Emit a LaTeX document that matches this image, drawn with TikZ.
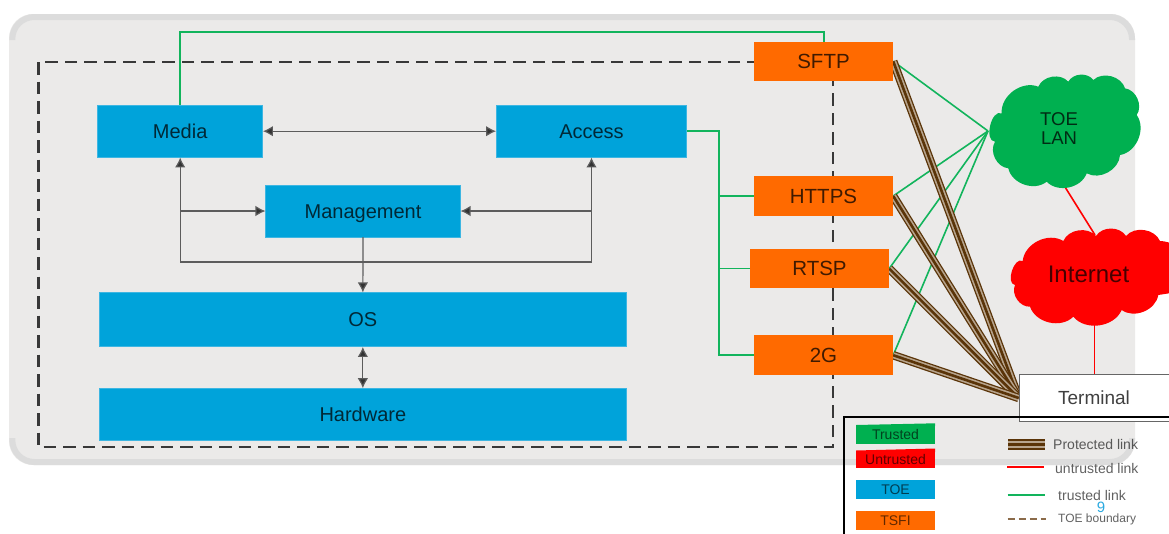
\documentclass[tikz,border=0pt]{standalone}
\usepackage{fontspec}
\setmainfont{Liberation Sans}
\usetikzlibrary{arrows.meta}
\definecolor{panelgray}{HTML}{EBEAE9}
\definecolor{paneledge}{HTML}{DCDCDC}
\definecolor{toeblue}{HTML}{00A3DA}
\definecolor{toeedge}{HTML}{3DB6E2}
\definecolor{tsfi}{HTML}{FF6A00}
\definecolor{tgreen}{HTML}{00B050}
\definecolor{lgreen}{HTML}{12B45C}
\definecolor{pbrown}{HTML}{5A3408}
\definecolor{ptan}{HTML}{B7A48D}
\definecolor{dashbrown}{HTML}{8B6B4A}
\definecolor{arrowgray}{HTML}{5C5C5C}
\definecolor{tipdark}{HTML}{333333}
\definecolor{nine}{HTML}{2AA9E0}
\pgfdeclarelayer{under}
\pgfsetlayers{under,main}
\tikzset{
  toebox/.style={rectangle,fill=toeblue,draw=toeedge,line width=0.5pt,inner sep=0pt,font=\fontsize{20}{22}\selectfont,text=black,text opacity=0.75,text height=14.5pt,text depth=0pt},
  tsfibox/.style={rectangle,fill=tsfi,inner sep=0pt,font=\fontsize{20.5}{22}\selectfont,text=black,text opacity=0.75,minimum width=139pt,text height=14.7pt,text depth=0pt},
  swatch/.style={rectangle,inner sep=0pt,minimum width=79pt,font=\fontsize{14}{16}\selectfont,text=black,text opacity=0.62,text height=10pt,text depth=0pt},
  legendtext/.style={inner sep=0pt,font=\fontsize{14}{16}\selectfont,text=black,text opacity=0.62,anchor=west},
  ctrl/.style={draw=arrowgray,line width=1.2pt,{Latex[length=10pt,width=10.5pt,fill=tipdark]}-{Latex[length=10pt,width=10.5pt,fill=tipdark]}},
  ctrlone/.style={draw=arrowgray,line width=1.2pt,-{Latex[length=10pt,width=10.5pt,fill=tipdark]}},
  glink/.style={draw=lgreen,line width=1.6pt},
  rlink/.style={draw=red,line width=1.6pt},
  protlink/.style={draw=pbrown,line width=8.5pt,postaction={draw=ptan,line width=5.9pt},postaction={draw=pbrown,line width=2.6pt}},
  protsample/.style={draw=pbrown,line width=11pt,postaction={draw=ptan,line width=7.5pt},postaction={draw=pbrown,line width=3.5pt}},
  lobe/.style={bend left=58},
  biglobe/.style={bend left=100}
}
\begin{document}
\begin{tikzpicture}[x=1pt,y=-1pt]
\path[use as bounding box] (0,0) rectangle (1169,533);
\clip (0,0) rectangle (1169,533);
% panel
\begin{pgfonlayer}{under}
\fill[panelgray,rounded corners=24pt] (9,14) rectangle (1135,465);
\draw[paneledge,line width=6pt,rounded corners=22pt] (12.3,40) -- (12.3,17) -- (1132,17) -- (1132,40);
\draw[paneledge,line width=6pt,rounded corners=22pt] (12.3,438) -- (12.3,462) -- (1132,462) -- (1132,438);
\draw[draw=black!78,line width=2.8pt,dash pattern=on 12.5pt off 7pt] (38.5,62) rectangle (833,447);
\end{pgfonlayer}
% TOE blocks
\node[toebox,minimum width=165pt,minimum height=52pt] (media) at (180.2,131.2) {Media};
\node[toebox,minimum width=190.4pt,minimum height=52pt] (access) at (591.5,131.2) {Access};
\node[toebox,minimum width=194.6pt,minimum height=51.7pt] (mgmt) at (363,211) {Management};
\node[toebox,minimum width=526.3pt,minimum height=54pt] (os) at (362.85,319.7) {OS};
\node[toebox,minimum width=526.3pt,minimum height=51.5pt] (hw) at (362.85,414.2) {Hardware};
% TSFI blocks
\node[tsfibox,minimum height=38.7pt] (sftp) at (823.5,61.3) {SFTP};
\node[tsfibox,minimum height=39.7pt] (https) at (823.5,196) {HTTPS};
\node[tsfibox,minimum height=38.7pt] (rtsp) at (819.5,268.6) {RTSP};
\node[tsfibox,minimum height=39.7pt] (twog) at (823.5,355.2) {2G};
% TOE LAN cloud
\fill[tgreen] (995,141.7) to[biglobe] (1001.7,113.3) to[lobe] (1038.3,86.7) to[lobe] (1068.3,81.7)
  to[lobe] (1093.3,80) to[lobe] (1125,88.3) to[lobe] (1136.7,115) to[lobe] (1120,155)
  to[lobe] (1086.7,173.3) to[lobe] (1046.7,181.7) to[lobe] (1008.3,168.3) to[lobe] (995,141.7) -- cycle;
\node[inner sep=0pt,align=center,font=\fontsize{18.5}{19}\selectfont,text=black,text opacity=0.75] (lan) at (1059,128.5) {TOE\\LAN};
\coordinate (lanw) at (988,131);
\coordinate (lans) at (1065,187);
% Internet cloud
\fill[red] (1015,285) to[biglobe] (1022.7,261) to[lobe] (1063.3,241) to[lobe] (1096,236)
  to[lobe] (1126,236) to[lobe] (1160,241) to[lobe] (1190,290) -- (1158.3,295)
  to[lobe] (1121.7,310) to[lobe] (1073.3,316.7) to[lobe] (1030,306.7) to[lobe] (1015,285) -- cycle;
\node[inner sep=0pt,font=\fontsize{24}{26}\selectfont,text=black,text opacity=0.72] (net) at (1088.5,274) {Internet};
\coordinate (netn) at (1095,235);
\coordinate (nets) at (1094.5,323);
% Terminal
\node[rectangle,fill=white,draw=black!60,line width=1.2pt,inner sep=0pt,minimum width=154pt,minimum height=47.5pt,font=\fontsize{19}{21}\selectfont,text=black,text opacity=0.75] (term) at (1096.3,398) {\hspace*{-4.6pt}Terminal};
% connectors under the nodes
\begin{pgfonlayer}{under}
\coordinate (gtop) at (824,32);
\draw[glink] (media.north) -- (media.north |- gtop) -- (gtop) -- (gtop |- sftp.north);
\coordinate (gbus) at (719,196);
\draw[glink] (access.east) -- (gbus |- access.east) -- (gbus |- twog.west) -- (twog.west);
\draw[glink] (gbus) -- (https.west);
\draw[glink] (gbus |- rtsp.west) -- (rtsp.west);
\draw[glink] (sftp.east) -- (lanw);
\draw[glink] (https.east) -- (lanw);
\draw[glink] (rtsp.east) -- (lanw);
\draw[glink] (twog.east) -- (lanw);
\draw[protlink] (sftp.east) -- (term.west);
\draw[protlink] (https.east) -- (term.west);
\draw[protlink] (rtsp.east) -- (term.west);
\draw[protlink] (twog.east) -- (term.west);
\draw[rlink] (lans) -- (netn);
\draw[rlink] (nets) -- (nets |- term.north);
\end{pgfonlayer}
% control arrows
\coordinate (row) at (363,262);
\draw[ctrl] (media.east) -- (access.west);
\draw[ctrl] (media.south) -- (media.south |- row) -- (access.south |- row) -- (access.south);
\draw[ctrlone] (media.south |- mgmt.west) -- (mgmt.west);
\draw[ctrlone] (access.south |- mgmt.east) -- (mgmt.east);
\draw[ctrlone] (mgmt.south) -- (os.north);
\draw[ctrl] (os.south) -- (hw.north);
% legend
\node[draw=black,line width=2.6pt,inner sep=0pt,minimum width=336pt,minimum height=128pt] (legend) at (1012,481) {};
\fill[tgreen] (856,425) -- (935,423.3) -- (935,426) -- (856,426) -- cycle;
\node[swatch,fill=tgreen,minimum height=18pt] (ltrust) at (895.5,434.5) {Trusted};
\fill[red] (856,450.5) -- (935,448.5) -- (935,452) -- (856,452) -- cycle;
\node[swatch,fill=red,minimum height=17pt] (luntrust) at (895.5,459.5) {Untrusted};
\node[swatch,fill=toeblue,minimum height=19pt] (ltoe) at (895.5,489.5) {TOE};
\node[swatch,fill=tsfi,minimum height=19.5pt] (ltsfi) at (895.5,520.5) {TSFI};
\coordinate (sa) at (1008,444.5); \coordinate (sb) at (1045,444.5);
\draw[protsample] (sa) -- (sb);
\coordinate (ra) at (1007,466.7); \coordinate (rb) at (1044,466.7);
\draw[rlink] (ra) -- (rb);
\coordinate (ga) at (1007.5,495); \coordinate (gb) at (1045,495);
\draw[glink] (ga) -- (gb);
\coordinate (da) at (1007.5,519); \coordinate (db) at (1046,519);
\draw[draw=dashbrown,line width=1.3pt,dash pattern=on 7pt off 4pt] (da) -- (db);
\node[legendtext] (tprot) at (1053,444) {Protected link};
\node[legendtext] (tunt) at (1055,468.5) {untrusted link};
\node[legendtext] (ttr) at (1058,495) {trusted link};
\node[legendtext,font=\fontsize{12}{14}\selectfont] (tbound) at (1058,519) {TOE boundary};
\node[inner sep=0pt,font=\fontsize{15}{16}\selectfont,text=nine] (pageno) at (1101,507.5) {9};
\end{tikzpicture}
\end{document}
